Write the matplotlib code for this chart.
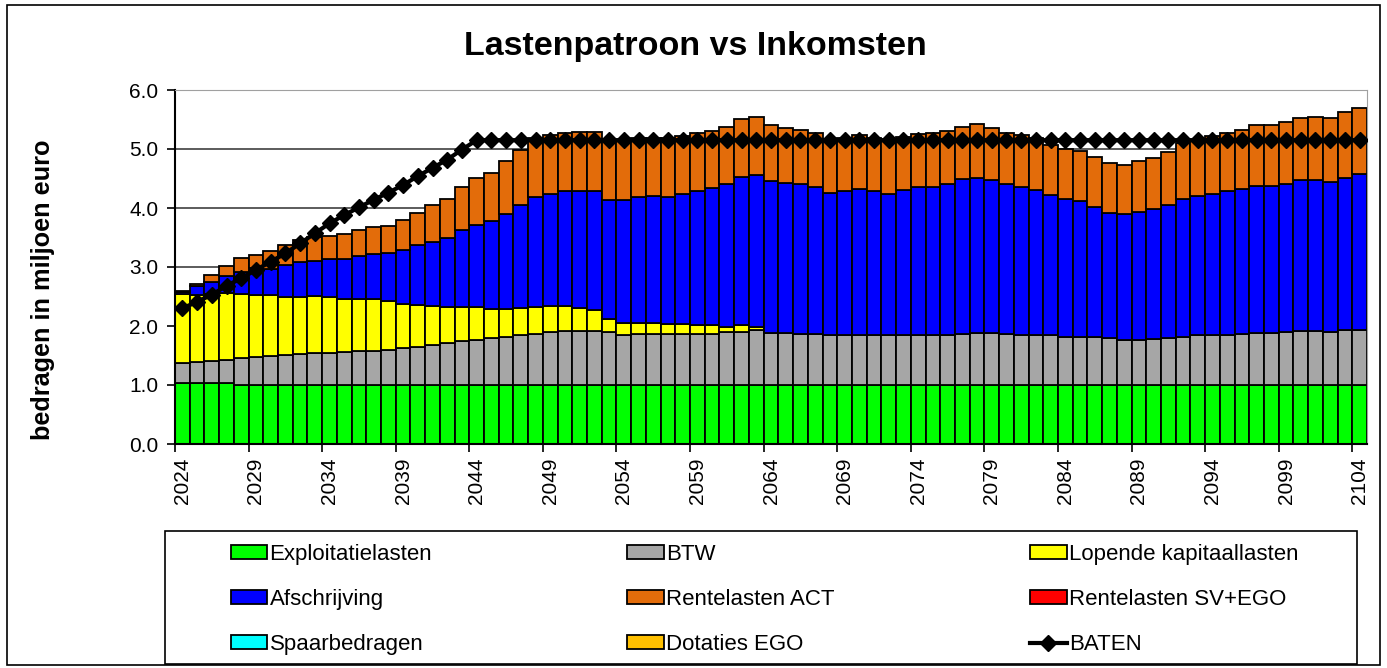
import numpy as np
import matplotlib
matplotlib.use("Agg")
import matplotlib.pyplot as plt
from matplotlib.patches import Patch, Rectangle
from matplotlib.lines import Line2D

plt.rcParams['font.family'] = ['Liberation Sans', 'DejaVu Sans']

years = list(range(2024, 2105))
n = len(years)

# waarden in miljoen euro
exploitatielasten = [
    1.03, 1.03, 1.03, 1.03, 1.00, 1.00, 1.00, 1.00, 1.00, 1.00,
    1.00, 1.00, 1.00, 1.00, 1.00, 1.00, 1.00, 1.00, 1.00, 1.00,
    1.00, 1.00, 1.00, 1.00, 1.00, 1.00, 1.00, 1.00, 1.00, 1.00,
    1.00, 1.00, 1.00, 1.00, 1.00, 1.00, 1.00, 1.00, 1.00, 1.00,
    1.00, 1.00, 1.00, 1.00, 1.00, 1.00, 1.00, 1.00, 1.00, 1.00,
    1.00, 1.00, 1.00, 1.00, 1.00, 1.00, 1.00, 1.00, 1.00, 1.00,
    1.00, 1.00, 1.00, 1.00, 1.00, 1.00, 1.00, 1.00, 1.00, 1.00,
    1.00, 1.00, 1.00, 1.00, 1.00, 1.00, 1.00, 1.00, 1.00, 1.00,
    1.00]
btw = [
    0.34, 0.36, 0.37, 0.40, 0.46, 0.48, 0.49, 0.51, 0.52, 0.54,
    0.55, 0.56, 0.57, 0.58, 0.60, 0.62, 0.65, 0.67, 0.71, 0.74,
    0.77, 0.80, 0.81, 0.84, 0.86, 0.90, 0.91, 0.91, 0.92, 0.90,
    0.85, 0.86, 0.86, 0.86, 0.86, 0.86, 0.86, 0.89, 0.90, 0.93,
    0.88, 0.88, 0.86, 0.86, 0.85, 0.84, 0.85, 0.85, 0.84, 0.84,
    0.85, 0.85, 0.85, 0.86, 0.88, 0.88, 0.86, 0.85, 0.85, 0.84,
    0.82, 0.81, 0.81, 0.79, 0.76, 0.76, 0.78, 0.79, 0.81, 0.84,
    0.85, 0.85, 0.86, 0.88, 0.88, 0.89, 0.91, 0.91, 0.89, 0.93,
    0.93]
kapitaallasten = [
    1.17, 1.14, 1.15, 1.13, 1.08, 1.05, 1.03, 0.99, 0.98, 0.97,
    0.95, 0.90, 0.89, 0.88, 0.83, 0.76, 0.70, 0.67, 0.62, 0.58,
    0.56, 0.48, 0.47, 0.46, 0.47, 0.44, 0.43, 0.39, 0.35, 0.22,
    0.20, 0.19, 0.19, 0.18, 0.17, 0.15, 0.15, 0.10, 0.11, 0.06,
    0.00, 0.00, 0.00, 0.00, 0.00, 0.00, 0.00, 0.00, 0.00, 0.00,
    0.00, 0.00, 0.00, 0.00, 0.00, 0.00, 0.00, 0.00, 0.00, 0.00,
    0.00, 0.00, 0.00, 0.00, 0.00, 0.00, 0.00, 0.00, 0.00, 0.00,
    0.00, 0.00, 0.00, 0.00, 0.00, 0.00, 0.00, 0.00, 0.00, 0.00,
    0.00]
afschrijving = [
    0.03, 0.14, 0.19, 0.28, 0.38, 0.45, 0.44, 0.53, 0.59, 0.60,
    0.64, 0.68, 0.73, 0.76, 0.81, 0.91, 1.02, 1.08, 1.16, 1.30,
    1.39, 1.50, 1.62, 1.75, 1.85, 1.89, 1.94, 1.98, 2.02, 2.02,
    2.09, 2.13, 2.15, 2.15, 2.21, 2.27, 2.33, 2.42, 2.52, 2.57,
    2.58, 2.54, 2.54, 2.49, 2.40, 2.44, 2.47, 2.43, 2.39, 2.47,
    2.50, 2.51, 2.56, 2.63, 2.63, 2.59, 2.54, 2.50, 2.46, 2.38,
    2.34, 2.31, 2.21, 2.13, 2.13, 2.17, 2.20, 2.26, 2.35, 2.36,
    2.39, 2.44, 2.47, 2.50, 2.50, 2.52, 2.56, 2.56, 2.55, 2.58,
    2.64]
rente_act = [
    0.03, 0.05, 0.12, 0.18, 0.23, 0.23, 0.31, 0.34, 0.37, 0.39,
    0.39, 0.42, 0.43, 0.45, 0.45, 0.50, 0.55, 0.63, 0.67, 0.73,
    0.78, 0.82, 0.89, 0.94, 1.00, 1.00, 0.99, 1.00, 0.99, 1.02,
    1.02, 1.01, 0.99, 1.00, 0.98, 0.99, 0.97, 0.97, 0.97, 0.98,
    0.95, 0.94, 0.92, 0.92, 0.92, 0.91, 0.91, 0.90, 0.93, 0.90,
    0.90, 0.91, 0.90, 0.89, 0.91, 0.88, 0.87, 0.88, 0.88, 0.84,
    0.84, 0.84, 0.85, 0.84, 0.84, 0.87, 0.87, 0.90, 0.94, 0.95,
    0.98, 0.98, 1.00, 1.02, 1.02, 1.05, 1.06, 1.08, 1.09, 1.11,
    1.12]
rente_sv_ego = [0.0] * n
spaarbedragen = [0.0] * n
dotaties_ego = [0.0] * n
baten = [
    2.30, 2.41, 2.53, 2.68, 2.81, 2.95, 3.09, 3.23, 3.40, 3.57,
    3.74, 3.88, 4.01, 4.14, 4.26, 4.39, 4.54, 4.68, 4.82, 4.99,
    5.15, 5.15, 5.15, 5.15, 5.15, 5.15, 5.15, 5.15, 5.15, 5.15,
    5.15, 5.15, 5.15, 5.15, 5.15, 5.15, 5.15, 5.15, 5.15, 5.15,
    5.15, 5.15, 5.15, 5.15, 5.15, 5.15, 5.15, 5.15, 5.15, 5.15,
    5.15, 5.15, 5.15, 5.15, 5.15, 5.15, 5.15, 5.15, 5.15, 5.15,
    5.15, 5.15, 5.15, 5.15, 5.15, 5.15, 5.15, 5.15, 5.15, 5.15,
    5.15, 5.15, 5.15, 5.15, 5.15, 5.15, 5.15, 5.15, 5.15, 5.15,
    5.15]

series = [
    ("Exploitatielasten", exploitatielasten, "#00FF00"),
    ("BTW", btw, "#A6A6A6"),
    ("Lopende kapitaallasten", kapitaallasten, "#FFFF00"),
    ("Afschrijving", afschrijving, "#0000FF"),
    ("Rentelasten ACT", rente_act, "#E36C0A"),
    ("Rentelasten SV+EGO", rente_sv_ego, "#FF0000"),
    ("Spaarbedragen", spaarbedragen, "#00FFFF"),
    ("Dotaties EGO", dotaties_ego, "#FFC000"),
]

W, H = 1387, 668
fig = plt.figure(figsize=(W / 100, H / 100), dpi=100)
ax = fig.add_axes([175 / W, 1 - 444 / H, (1367 - 175) / W, (444 - 90) / H])

x = np.arange(n)
bottom = np.zeros(n)
for name, vals, col in series:
    vals = np.array(vals)
    lw = np.where(vals > 0, 1.3, 0.0)
    ax.bar(x, vals, width=1.0, bottom=bottom, color=col, edgecolor="black",
           linewidth=lw, zorder=2)
    bottom += vals

ax.plot(x, baten, color="black", lw=3, marker="D", markersize=8.5, zorder=3)

ax.set_xlim(-0.5, n - 0.5)
ax.set_ylim(0, 6)
ax.set_yticks(np.arange(0, 6.1, 1.0))
ax.set_yticklabels([f"{v:.1f}" for v in np.arange(0, 6.1, 1.0)])
ax.yaxis.grid(True, color="#404040", lw=1.2, zorder=0)
ax.set_axisbelow(True)

label_pos = x[::5]
ax.set_xticks(label_pos)
ax.set_xticklabels([str(years[i]) for i in label_pos], rotation=90)
ax.tick_params(axis="x", length=0, pad=10, labelsize=15)
ax.set_xticks(label_pos - 0.5, minor=True)
ax.tick_params(axis="x", which="minor", length=6, width=1.2, direction="out")
ax.tick_params(axis="y", length=6, width=1.2, labelsize=15, pad=6)

ax.spines["left"].set_linewidth(1.5)
ax.spines["bottom"].set_linewidth(1.5)
ax.spines["top"].set_color("#A0A0A0")
ax.spines["right"].set_color("#A0A0A0")

fig.text(695 / W, 1 - 47 / H, "Lastenpatroon vs Inkomsten", ha="center", va="center",
         fontsize=24.5, fontweight="bold")
fig.text(43 / W, 1 - 290 / H, "bedragen in miljoen euro", ha="center", va="center",
         rotation=90, fontsize=18.2, fontweight="bold")

# legenda: matplotlib vult kolom voor kolom
handles = {name: Patch(facecolor=col, edgecolor="black", linewidth=1.3)
           for name, vals, col in series}
handles["BATEN"] = Line2D([], [], color="black", lw=3, marker="D", markersize=8)
order = ["Exploitatielasten", "Afschrijving", "Spaarbedragen",
         "BTW", "Rentelasten ACT", "Dotaties EGO",
         "Lopende kapitaallasten", "Rentelasten SV+EGO", "BATEN"]
fig.legend([handles[k] for k in order], order, ncol=3, mode="expand",
           loc="center",
           bbox_to_anchor=(224 / W, 1 - 668 / H, (1305 - 224) / W, (668 - 531) / H),
           frameon=False, fontsize=16, handlelength=1.65, handleheight=0.55,
           handletextpad=0.1, labelspacing=1.08, borderpad=0.3, borderaxespad=0)

fig.patches.append(Rectangle((165 / W, 1 - 664 / H), (1357 - 165) / W, (664 - 531) / H,
                             transform=fig.transFigure, fill=False, edgecolor="black",
                             lw=1.2))
fig.patches.append(Rectangle((7 / W, 1 - 665 / H), (1380 - 7) / W, (665 - 5) / H,
                             transform=fig.transFigure, fill=False, edgecolor="black",
                             lw=1.2))

fig.savefig("out.png", dpi=100, facecolor="white")
